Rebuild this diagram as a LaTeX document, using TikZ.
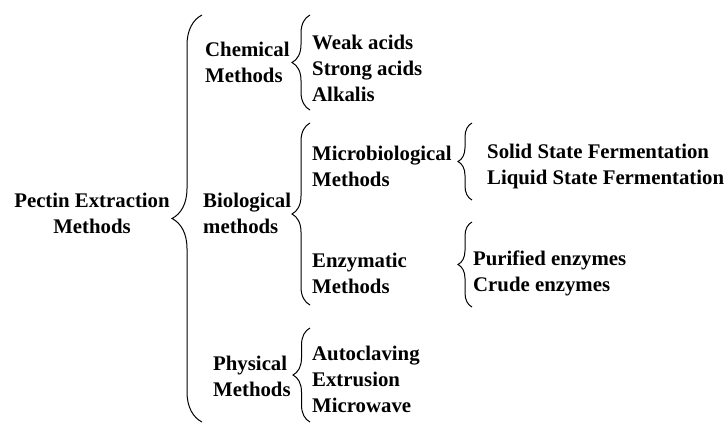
\documentclass[tikz,border=0pt]{standalone}
\usepackage{fontspec}
\setmainfont{Liberation Serif}
\usepackage{tikz}
\usetikzlibrary{decorations.pathreplacing}
\newcommand{\curly}[3]{
  \draw [decorate,decoration={brace,amplitude=#3},line width=1pt,color=black] (#1) -- (#2)
}

\begin{document}
\begin{tikzpicture}[x=1pt,y=-1pt,
  every node/.style={inner sep=0pt,font=\bfseries\fontsize{20.8}{26}\selectfont}]
\useasboundingbox (0,0) rectangle (727,424);

% root
\node (root) at (92,213) [align=center] {Pectin Extraction\\Methods};

% first level
\node (chem) at (205,62) [anchor=west,align=left] {Chemical\\Methods};
\node (bio)  at (203,213) [anchor=west,align=left] {Biological\\methods};
\node (phys) at (213,376) [anchor=west,align=left] {Physical\\Methods};

% kids of chem
\node (chemL) at (312,68) [anchor=west,align=left] {Weak acids\\Strong acids\\Alkalis};

% kids of bio
\node (micro) at (312,166) [anchor=west,align=left] {Microbiological\\Methods};
\node (enzy)  at (312,273) [anchor=west,align=left] {Enzymatic\\Methods};

% kids of micro
\node (microL) at (487,166) [anchor=west,align=left] {Solid State Fermentation\\Liquid State Fermentation};

% kids of enzy
\node (enzyL) at (473,273) [anchor=west,align=left] {Purified enzymes\\Crude enzymes};

% kids of phys
\node (physL) at (312,379) [anchor=west,align=left] {Autoclaving\\Extrusion\\Microwave};

% brace ends
\coordinate (B0b) at (202,422);
\coordinate (B0t) at (202,15);
\coordinate (B1b) at (310,110);
\coordinate (B1t) at (310,15);
\coordinate (B2b) at (310,305);
\coordinate (B2t) at (310,123);
\coordinate (B3b) at (310,422);
\coordinate (B3t) at (310,328);
\coordinate (B4b) at (472,200);
\coordinate (B4t) at (472,123);
\coordinate (B5b) at (472,307);
\coordinate (B5t) at (472,222);

% braces
\curly {B0b} {B0t} {30pt};
\curly {B1b} {B1t} {18pt};
\curly {B2b} {B2t} {18pt};
\curly {B3b} {B3t} {17pt};
\curly {B4b} {B4t} {14pt};
\curly {B5b} {B5t} {14pt};

\end{tikzpicture}
\end{document}
